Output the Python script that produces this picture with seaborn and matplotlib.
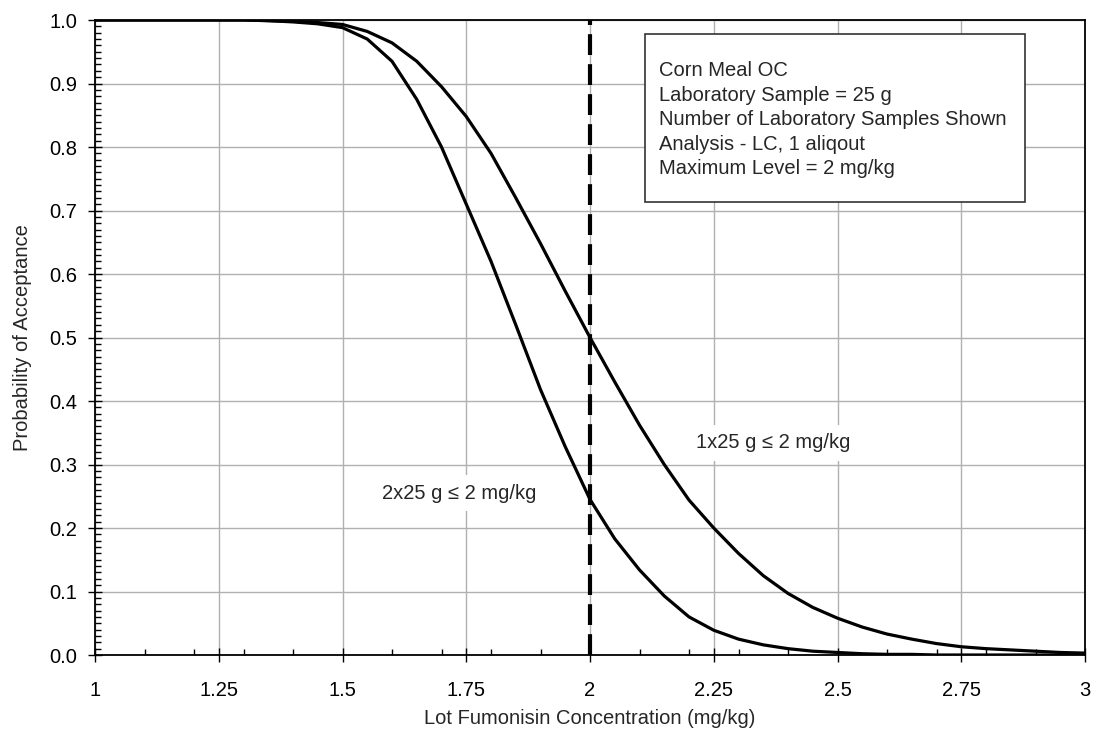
import numpy as np
import pandas as pd
import matplotlib
matplotlib.use('Agg')
import matplotlib.pyplot as plt
from matplotlib.ticker import MultipleLocator, FormatStrFormatter, FuncFormatter
from matplotlib.patches import Rectangle
import seaborn as sns

# valores
conc = [1.00, 1.05, 1.10, 1.15, 1.20, 1.25, 1.30, 1.35, 1.40, 1.45, 1.50,
        1.55, 1.60, 1.65, 1.70, 1.75, 1.80, 1.85, 1.90, 1.95, 2.00,
        2.05, 2.10, 2.15, 2.20, 2.25, 2.30, 2.35, 2.40, 2.45, 2.50,
        2.55, 2.60, 2.65, 2.70, 2.75, 2.80, 2.85, 2.90, 2.95, 3.00]
pa_1x25 = [1.000, 1.000, 1.000, 1.000, 1.000, 1.000, 1.000, 0.999, 0.998, 0.996, 0.993,
           0.982, 0.964, 0.935, 0.895, 0.848, 0.790, 0.720, 0.648, 0.573, 0.500,
           0.430, 0.362, 0.300, 0.244, 0.200, 0.160, 0.125, 0.097, 0.075, 0.058,
           0.044, 0.033, 0.025, 0.018, 0.013, 0.010, 0.008, 0.006, 0.004, 0.003]
pa_2x25 = [1.000, 1.000, 1.000, 1.000, 1.000, 1.000, 1.000, 0.999, 0.997, 0.994, 0.988,
           0.970, 0.935, 0.875, 0.800, 0.710, 0.620, 0.520, 0.418, 0.328, 0.245,
           0.183, 0.134, 0.093, 0.060, 0.039, 0.025, 0.016, 0.010, 0.006, 0.004,
           0.002, 0.001, 0.001, 0.000, 0.000, 0.000, 0.000, 0.000, 0.000, 0.000]
curve_names = ['1x25 g \u2264 2 mg/kg', '2x25 g \u2264 2 mg/kg']
max_level = 2.0
info_lines = ['Corn Meal OC', 'Laboratory Sample = 25 g', 'Number of Laboratory Samples Shown',
              'Analysis - LC, 1 aliqout', 'Maximum Level = 2 mg/kg']

df = pd.DataFrame({
    'conc': conc * 2,
    'pa': pa_1x25 + pa_2x25,
    'plano': [curve_names[0]] * len(conc) + [curve_names[1]] * len(conc),
})

sns.set_style('white')
plt.rcParams['font.family'] = ['Liberation Sans', 'DejaVu Sans']

fig = plt.figure(figsize=(10.95, 7.44), dpi=100)
ax = fig.add_axes([0.08676, 0.11962, 0.90411, 0.85349])

sns.lineplot(data=df, x='conc', y='pa', hue='plano', palette=['black', 'black'],
             linewidth=2.3, legend=False, ax=ax, zorder=3)
ax.axvline(max_level, color='black', linewidth=3, dashes=(5, 2.2), zorder=4)

ax.set_xlim(1, 3)
ax.set_ylim(0, 1)
ax.xaxis.set_major_locator(MultipleLocator(0.25))
ax.xaxis.set_minor_locator(MultipleLocator(0.1))
ax.yaxis.set_major_locator(MultipleLocator(0.1))
ax.yaxis.set_minor_locator(MultipleLocator(0.01))
ax.yaxis.set_major_formatter(FormatStrFormatter('%.1f'))
ax.xaxis.set_major_formatter(FuncFormatter(lambda v, p: '{:g}'.format(v)))

ax.grid(True, which='major', color='#b0b0b0', linewidth=1, zorder=0)
ax.tick_params(which='major', direction='inout', length=10, width=1, colors='black',
               labelsize=14.5)
ax.tick_params(axis='x', which='major', pad=14)
ax.tick_params(axis='y', which='major', pad=8)
ax.tick_params(which='minor', direction='in', length=4, width=1, color='black')
ax.tick_params(which='both', bottom=True, left=True, top=False, right=False)
for s in ax.spines.values():
    s.set_color('black')
    s.set_linewidth(1.3)

ax.set_xlabel('Lot Fumonisin Concentration (mg/kg)', fontsize=14.5, labelpad=6)
ax.set_ylabel('Probability of Acceptance', fontsize=14.5, labelpad=12)

# caixa de informacoes
ax.add_patch(Rectangle((0.5556, 0.7134), 0.3838, 0.2646, transform=ax.transAxes,
                       facecolor='white', edgecolor='#333333', linewidth=1.2, zorder=5))
ax.text(0.5697, 0.935, '\n'.join(info_lines), transform=ax.transAxes, ha='left', va='top',
        fontsize=14.5, linespacing=1.37, zorder=6)

# rotulos das curvas
ax.text(2.370, 0.334, curve_names[0], ha='center', va='center', fontsize=14.5, zorder=6,
        bbox=dict(facecolor='white', edgecolor='none', pad=6))
ax.text(1.735, 0.255, curve_names[1], ha='center', va='center', fontsize=14.5, zorder=6,
        bbox=dict(facecolor='white', edgecolor='none', pad=6))

plt.savefig('out.png', dpi=100)
